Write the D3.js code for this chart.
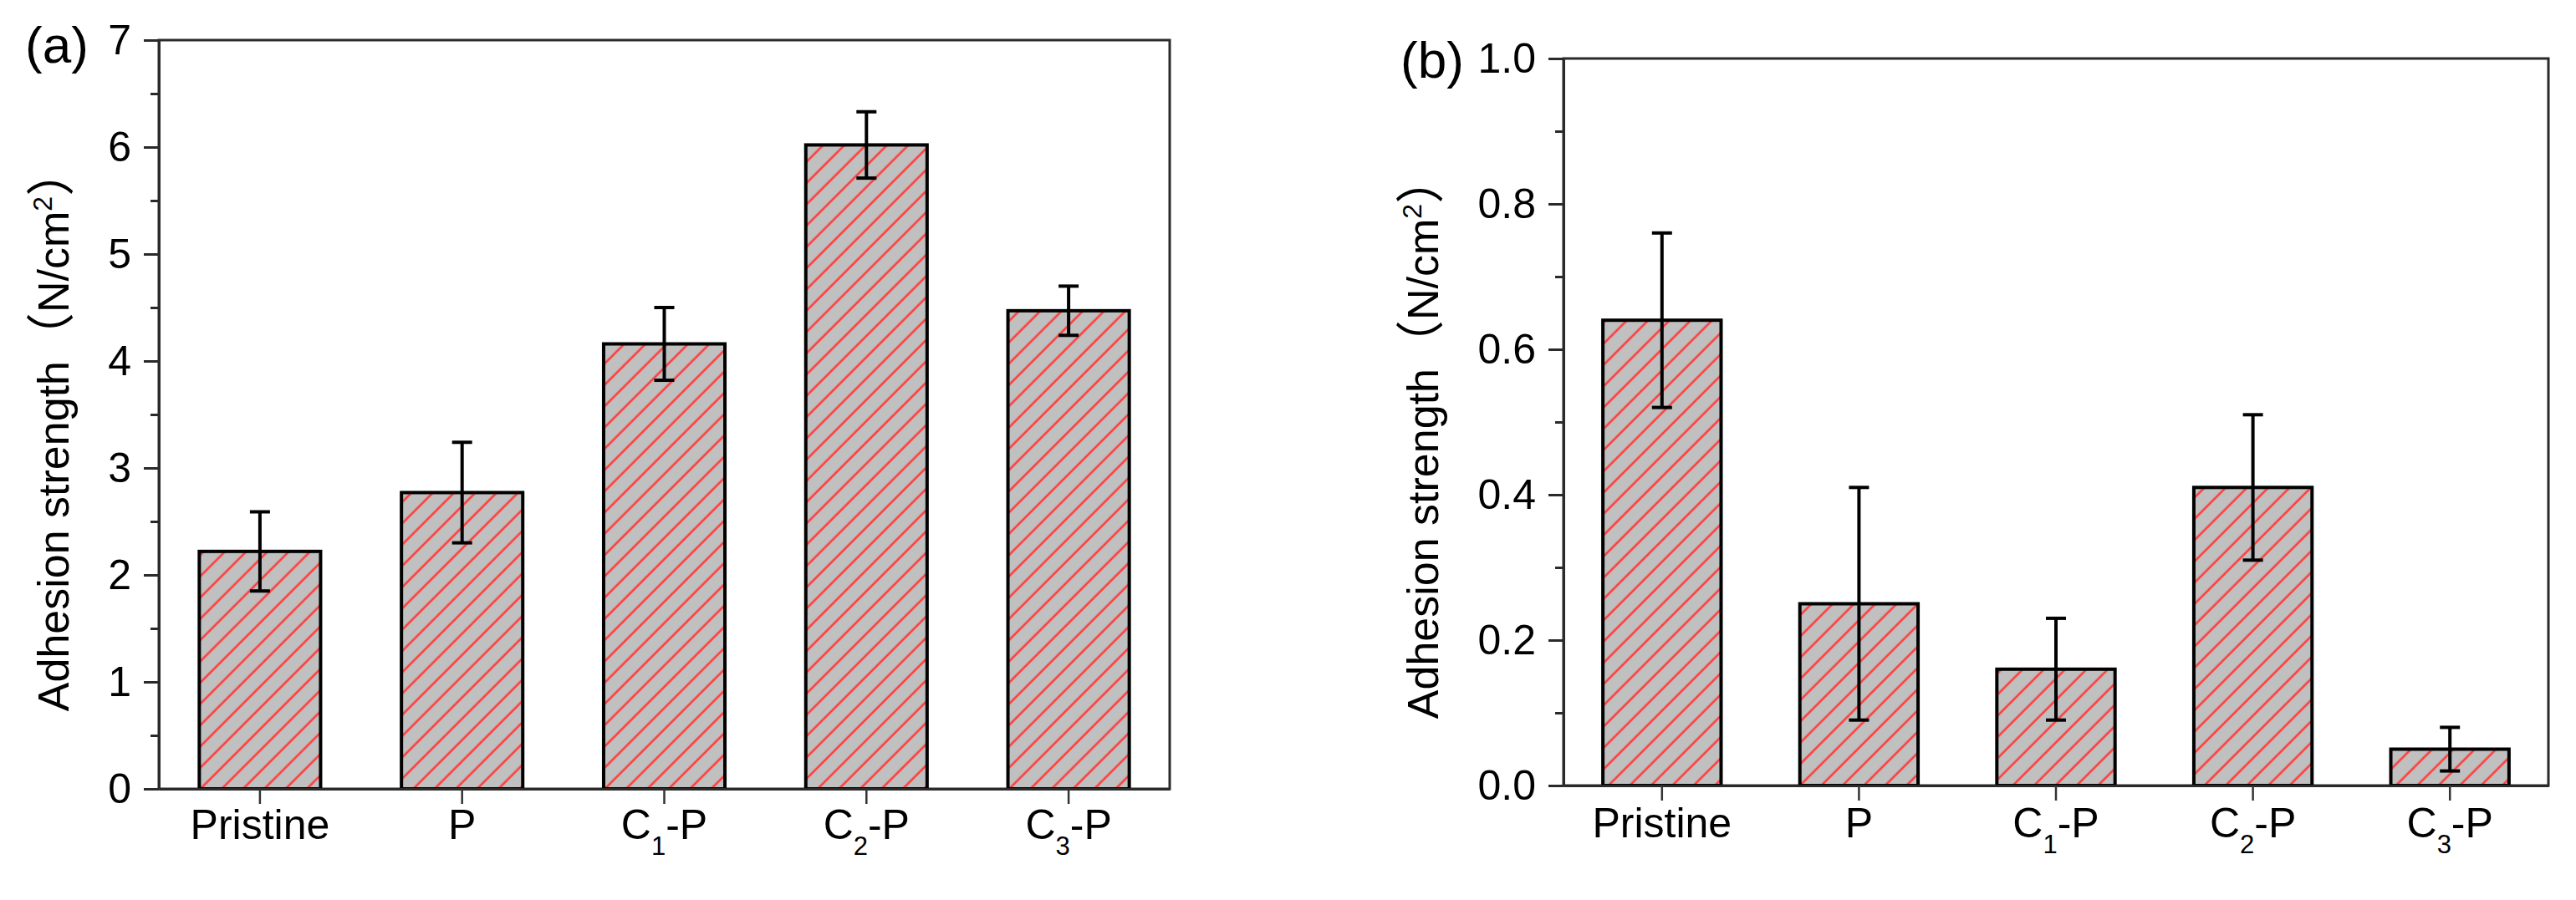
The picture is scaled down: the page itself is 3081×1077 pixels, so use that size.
<!DOCTYPE html>
<html>
<head>
<meta charset="utf-8">
<script src="https://cdn.jsdelivr.net/npm/d3@7"></script>
<style>
	body { margin: 0; background: #fff; }
	svg text { font-family: "Liberation Sans", Arial, sans-serif; fill: #000; }
</style>
</head>
<body>
<svg id="viz"></svg>
<script>
// Data
const categories = ["Pristine", "P", "C1-P", "C2-P", "C3-P"];

// (a) adhesion strength, N/cm2, with error (±)
const strengthA = [2.22, 2.77, 4.16, 6.02, 4.47];
const errorA = [0.37, 0.47, 0.34, 0.31, 0.23];

// (b)
const strengthB = [0.64, 0.25, 0.16, 0.41, 0.05];
const errorB = [0.12, 0.16, 0.07, 0.10, 0.03];

const ticksA = [0, 1, 2, 3, 4, 5, 6, 7];
const ticksB = [0.0, 0.2, 0.4, 0.6, 0.8, 1.0];

const width = 3081;
const height = 1077;

const svg = d3.select("svg#viz")
	.attr("width", width)
	.attr("height", height);

// hatch fill: grey with red "/" lines
const defs = svg.append("defs");
const hatch = defs.append("pattern")
	.attr("id", "hatch")
	.attr("patternUnits", "userSpaceOnUse")
	.attr("width", 18)
	.attr("height", 18)
	.attr("patternTransform", "rotate(45)");
hatch.append("rect")
	.attr("width", 18)
	.attr("height", 18)
	.attr("fill", "#c0c0c0");
hatch.append("line")
	.attr("x1", 9).attr("y1", 0)
	.attr("x2", 9).attr("y2", 18)
	.attr("stroke", "#ff3c3c")
	.attr("stroke-width", 2.6);

drawPanel({
	label: "(a)", labelPos: [30, 75],
	box: {left: 190, right: 1399, top: 48, bottom: 944},
	domain: [0, 7], ticks: ticksA, minor: d3.range(0.5, 7, 1),
	format: d3.format("d"),
	values: strengthA, errors: errorA,
	titleX: 82, xPad: 6
});

drawPanel({
	label: "(b)", labelPos: [1675, 93],
	box: {left: 1870, right: 3048, top: 70, bottom: 940},
	domain: [0, 1], ticks: ticksB, minor: d3.range(0.1, 1, 0.2),
	format: d3.format(".1f"),
	values: strengthB, errors: errorB,
	titleX: 1720, xPad: 8
});

function drawPanel(p) {
	const b = p.box;
	const g = svg.append("g");

	const x = d3.scaleBand()
		.domain(categories)
		.range([b.left, b.right])
		.paddingInner(0.4)
		.paddingOuter(0.2);

	const y = d3.scaleLinear()
		.domain(p.domain)
		.range([b.bottom, b.top]);

	const rows = categories.map((c, i) => ({cat: c, v: p.values[i], e: p.errors[i]}));

	// frame
	g.append("rect")
		.attr("x", b.left).attr("y", b.top)
		.attr("width", b.right - b.left)
		.attr("height", b.bottom - b.top)
		.attr("fill", "none")
		.attr("stroke", "#2a2a2a")
		.attr("stroke-width", 3);

	// bars
	g.append("g").selectAll("rect")
		.data(rows)
		.join("rect")
		.attr("x", d => x(d.cat))
		.attr("width", x.bandwidth())
		.attr("y", d => y(d.v))
		.attr("height", d => y(0) - y(d.v))
		.attr("fill", "url(#hatch)")
		.attr("stroke", "#000")
		.attr("stroke-width", 4);

	// error bars
	const eb = g.append("g").attr("stroke", "#000").attr("stroke-width", 4);
	const cx = d => x(d.cat) + x.bandwidth() / 2;
	eb.selectAll("line.stem")
		.data(rows)
		.join("line")
		.attr("class", "stem")
		.attr("x1", cx).attr("x2", cx)
		.attr("y1", d => y(d.v - d.e))
		.attr("y2", d => y(d.v + d.e));
	eb.selectAll("line.capT")
		.data(rows)
		.join("line")
		.attr("class", "capT")
		.attr("x1", d => cx(d) - 12).attr("x2", d => cx(d) + 12)
		.attr("y1", d => y(d.v + d.e)).attr("y2", d => y(d.v + d.e));
	eb.selectAll("line.capB")
		.data(rows)
		.join("line")
		.attr("class", "capB")
		.attr("x1", d => cx(d) - 12).attr("x2", d => cx(d) + 12)
		.attr("y1", d => y(d.v - d.e)).attr("y2", d => y(d.v - d.e));

	// y axis, major and minor ticks
	const yAxis = g.append("g")
		.attr("transform", translate(b.left, 0))
		.call(d3.axisLeft(y).tickValues(p.ticks).tickFormat(p.format)
			.tickSize(18).tickSizeOuter(0).tickPadding(15));
	yAxis.selectAll("path, line").attr("stroke", "#2a2a2a").attr("stroke-width", 3);
	yAxis.selectAll("text").style("font-size", "50px").attr("font-family", null);

	const yMinor = g.append("g")
		.attr("transform", translate(b.left, 0))
		.call(d3.axisLeft(y).tickValues(p.minor).tickFormat("")
			.tickSize(10).tickSizeOuter(0));
	yMinor.select(".domain").remove();
	yMinor.selectAll("line").attr("stroke", "#2a2a2a").attr("stroke-width", 3);

	// x axis
	const xAxis = g.append("g")
		.attr("transform", translate(0, b.bottom))
		.call(d3.axisBottom(x).tickSize(18).tickSizeOuter(0).tickPadding(p.xPad));
	xAxis.select(".domain").attr("stroke", "#2a2a2a").attr("stroke-width", 3);
	xAxis.selectAll("line").attr("stroke", "#333").attr("stroke-width", 2.5);
	xAxis.selectAll("text")
		.style("font-size", "50px")
		.attr("font-family", null)
		.each(function(d) {
			const t = d3.select(this).text(null);
			const m = d.match(/^C(\d)-P$/);
			if (m) {
				t.append("tspan").text("C");
				t.append("tspan").attr("dy", 19).style("font-size", "31px").text(m[1]);
				t.append("tspan").attr("dy", -19).text("-P");
			} else {
				t.text(d);
			}
		});

	// y title
	const title = g.append("text")
		.attr("transform", translate(p.titleX, (b.top + b.bottom) / 2 + 18) + " rotate(-90)")
		.attr("text-anchor", "middle")
		.style("font-size", "52px");
	title.append("tspan").text("Adhesion strength");
	title.append("tspan").style("font-family", "'Noto Sans CJK SC'").style("font-size", "58px").text("（");
	title.append("tspan").text("N/cm");
	title.append("tspan").attr("dy", -20).style("font-size", "32px").text("2");
	title.append("tspan").attr("dy", 20).style("font-family", "'Noto Sans CJK SC'").style("font-size", "58px").text("）");

	// panel label
	g.append("text")
		.attr("x", p.labelPos[0])
		.attr("y", p.labelPos[1])
		.style("font-size", "62px")
		.text(p.label);
}

//Helper
function translate(x, y) {
	return 'translate(' + x + ',' + y + ')';
}
</script>
</body>
</html>
